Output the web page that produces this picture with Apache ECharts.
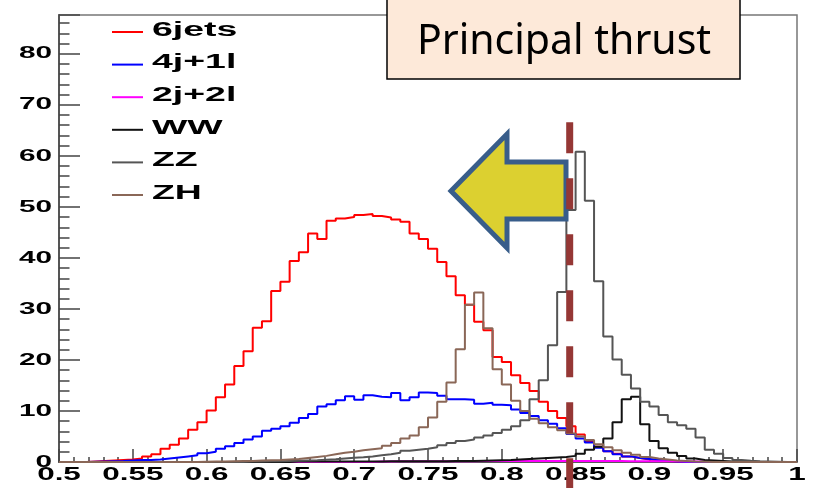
<!DOCTYPE html>
<html>
<head>
<meta charset="utf-8">
<script src="https://cdn.jsdelivr.net/npm/echarts@6/dist/echarts.min.js"></script>
<style>
  html, body { margin: 0; padding: 0; background: #ffffff; }
  #chart { width: 817px; height: 488px; }
</style>
</head>
<body>
<div id="chart"></div>
<script>
// Histogram binning: 80 bins of principal thrust between 0.5 and 1
const binLow = 0.5;
const binHigh = 1.0;
const nBins = 80;

// Bin contents per sample (80 entries each)
const sixJets = [
  0, 0, 0, 0.1, 0.2, 0.3, 0.4, 0.5, 0.7, 1.1,
  1.5, 2.6, 3.4, 4.6, 6.3, 7.8, 10.1, 12.7, 15.2, 18.8,
  21.7, 26.3, 27.6, 33.5, 35.3, 39.4, 41.1, 44.8, 43.7, 47.3,
  47.7, 48.0, 48.4, 48.6, 48.2, 47.9, 47.5, 47.1, 44.8, 43.7,
  41.8, 39.2, 36.4, 32.7, 30.8, 27.5, 25.8, 20.6, 19.6, 17.0,
  15.5, 13.9, 11.8, 10.0, 8.6, 7.0, 5.4, 3.9, 3.0, 2.1,
  1.6, 1.1, 0.8, 0.5, 0.4, 0.2, 0.1, 0, 0, 0,
  0, 0, 0, 0, 0, 0, 0, 0, 0, 0
];
const fourJetsOneLep = [
  0, 0, 0, 0.05, 0.1, 0.15, 0.2, 0.3, 0.4, 0.4,
  0.5, 0.7, 0.9, 1.1, 1.3, 1.7, 2.0, 2.6, 3.1, 3.7,
  4.4, 5.0, 6.1, 6.5, 7.0, 7.7, 8.6, 9.4, 10.9, 11.3,
  12.1, 12.9, 12.2, 13.1, 12.8, 12.7, 13.5, 12.1, 12.7, 13.6,
  13.5, 13.0, 12.3, 12.3, 12.2, 11.4, 11.6, 11.2, 11.1, 10.3,
  9.6, 9.0, 8.2, 7.5, 6.6, 5.5, 4.6, 3.8, 2.8, 2.1,
  1.5, 1.1, 0.8, 0.6, 0.4, 0.2, 0.1, 0, 0, 0,
  0, 0, 0, 0, 0, 0, 0, 0, 0, 0
];
const twoJetsTwoLep = [
  0, 0, 0, 0, 0, 0, 0, 0, 0, 0,
  0, 0, 0, 0, 0, 0, 0, 0, 0, 0,
  0, 0, 0, 0, 0, 0, 0, 0, 0, 0,
  0, 0, 0, 0, 0.1, 0.1, 0.15, 0.15, 0.15, 0.15,
  0.15, 0.15, 0.15, 0.15, 0.15, 0.2, 0.2, 0.2, 0.2, 0.2,
  0.2, 0.2, 0.2, 0.2, 0.2, 0.2, 0.2, 0.2, 0.2, 0.2,
  0.2, 0.15, 0.15, 0.15, 0.15, 0.15, 0.15, 0.1, 0.1, 0.1,
  0.1, 0, 0, 0, 0, 0, 0, 0, 0, 0
];
const wwSample = [
  0, 0, 0, 0, 0, 0, 0, 0, 0, 0,
  0, 0, 0, 0, 0, 0, 0, 0, 0, 0,
  0, 0, 0, 0, 0, 0.1, 0.1, 0.1, 0.1, 0.1,
  0.1, 0.1, 0.1, 0.1, 0.1, 0.15, 0.15, 0.15, 0.15, 0.15,
  0.15, 0.15, 0.2, 0.2, 0.2, 0.25, 0.3, 0.35, 0.4, 0.5,
  0.6, 0.7, 0.8, 0.9, 1.0, 1.2, 1.6, 2.4, 3.0, 4.6,
  7.8, 12.3, 12.8, 7.4, 4.1, 2.7, 1.8, 1.2, 0.7, 0.4,
  0.3, 0.2, 0.1, 0, 0, 0, 0, 0, 0, 0
];
const zzSample = [
  0, 0, 0, 0, 0, 0, 0, 0, 0, 0,
  0, 0, 0, 0, 0, 0, 0, 0, 0, 0,
  0.1, 0.1, 0.15, 0.15, 0.2, 0.25, 0.3, 0.35, 0.45, 0.55,
  0.7, 0.85, 0.95, 1.1, 1.3, 1.5, 1.8, 2.2, 2.4, 2.6,
  2.9, 3.3, 3.7, 4.1, 4.4, 4.8, 5.2, 5.7, 6.3, 7.0,
  8.2, 12.3, 16.0, 22.9, 33.3, 49.4, 60.8, 51.2, 35.4, 24.6,
  20.1, 17.1, 14.4, 11.8, 10.9, 9.2, 7.8, 7.2, 6.5, 4.8,
  2.4, 1.6, 0.8, 0.4, 0.25, 0.15, 0.1, 0.05, 0, 0
];
const zhSample = [
  0, 0, 0, 0, 0, 0, 0, 0, 0, 0,
  0, 0, 0, 0, 0, 0.05, 0.1, 0.1, 0.15, 0.2,
  0.2, 0.3, 0.35, 0.4, 0.5, 0.6, 0.8, 1.0, 1.2, 1.5,
  1.8, 2.0, 2.3, 2.5, 2.7, 3.2, 3.7, 4.6, 5.2, 6.8,
  8.7, 11.8, 15.6, 22.1, 30.8, 33.2, 26.2, 18.2, 15.2, 12.0,
  10.0, 8.5, 7.6, 6.8, 6.2, 5.6, 5.0, 4.3, 3.5, 2.9,
  2.3, 1.8, 1.4, 1.0, 0.7, 0.5, 0.3, 0.2, 0.1, 0.05,
  0, 0, 0, 0, 0, 0, 0, 0, 0, 0
];

const seriesNames = ['6jets', '4j+1l', '2j+2l', 'WW', 'ZZ', 'ZH'];
const seriesValues = [sixJets, fourJetsOneLep, twoJetsTwoLep, wwSample, zzSample, zhSample];
const seriesColors = ['#ff0000', '#0000ff', '#ff00ff', '#111111', '#555555', '#8a6757'];

// Axis tick labels
const xTickLabels = ['0.5', '0.55', '0.6', '0.65', '0.7', '0.75', '0.8', '0.85', '0.9', '0.95', '1'];
const yTickLabels = ['0', '10', '20', '30', '40', '50', '60', '70', '80'];
const yMax = 87.6;

// Cut marker on the thrust axis
const cutValue = 0.846;
const cutTop = 66.6;
const titleText = 'Principal thrust';

// Turn bin contents into step-line points at the bin low edges (+ closing edge)
function toSteps(vals) {
  const w = (binHigh - binLow) / nBins;
  const pts = vals.map((v, i) => [binLow + i * w, v]);
  pts.push([binHigh, vals[vals.length - 1]]);
  return pts;
}

const chart = echarts.init(document.getElementById('chart'), null, { renderer: 'canvas' });

const axisGrey = '#444444';
const option = {
  animation: false,
  backgroundColor: '#ffffff',
  grid: {
    left: 59, right: 20, top: 15, bottom: 26,
    show: true, borderColor: '#777777', borderWidth: 1.5,
    backgroundColor: 'transparent'
  },
  xAxis: {
    type: 'value', min: binLow, max: binHigh, interval: 0.05,
    axisLine: { show: true, onZero: false, lineStyle: { color: axisGrey, width: 1.5 } },
    axisTick: { show: true, inside: true, length: 13, lineStyle: { color: axisGrey, width: 1.5 } },
    minorTick: { show: true, splitNumber: 5, length: 5, lineStyle: { color: axisGrey, width: 1.5 } },
    axisLabel: { show: false },
    splitLine: { show: false }
  },
  yAxis: [
    {
      type: 'value', min: 0, max: yMax, interval: 2, position: 'left',
      axisLine: { show: true, lineStyle: { color: '#555555', width: 2 } },
      axisTick: { show: true, inside: true, length: 10.5, lineStyle: { color: axisGrey, width: 1.5 } },
      axisLabel: { show: false },
      splitLine: { show: false }
    },
    {
      type: 'value', min: 0, max: yMax, interval: 10, position: 'left',
      axisLine: { show: false },
      axisTick: { show: true, inside: true, length: 21, lineStyle: { color: axisGrey, width: 1.5 } },
      axisLabel: { show: false },
      splitLine: { show: false }
    }
  ],
  series: seriesNames.map((name, k) => ({
    name: name,
    type: 'line',
    step: 'end',
    showSymbol: false,
    symbol: 'none',
    xAxisIndex: 0,
    yAxisIndex: 0,
    data: toSteps(seriesValues[k]),
    lineStyle: { color: seriesColors[k], width: 2 },
    itemStyle: { color: seriesColors[k] },
    z: 2 + k * 0.01
  }))
};
chart.setOption(option);

const px = (x, y) => chart.convertToPixel({ seriesIndex: 0 }, [x, y]);
const graphics = [];

// Horizontally stretched bold label, wrapped in a scaled group
function wideText(t, x, y, size, stretch, align) {
  return {
    type: 'group', x: x, y: y, scaleX: stretch, z: 50,
    children: [{
      type: 'text', x: 0, y: 0, z: 50,
      style: {
        text: t, fontFamily: 'Liberation Sans', fontWeight: 'bold', fontSize: size,
        fill: '#000000', align: align, verticalAlign: 'middle'
      }
    }]
  };
}

// Y tick labels
yTickLabels.forEach(t => {
  const p = px(binLow, parseFloat(t));
  graphics.push(wideText(t, 52, p[1], 17, 1.75, 'right'));
});
// X tick labels
xTickLabels.forEach(t => {
  const p = px(parseFloat(t), 0);
  graphics.push(wideText(t, p[0], p[1] + 12.5, 18.5, 1.7, 'center'));
});
// Legend
seriesNames.forEach((name, k) => {
  const yRow = 32 + k * 32.6;
  graphics.push({
    type: 'line', z: 50,
    shape: { x1: 112, y1: yRow, x2: 143, y2: yRow },
    style: { stroke: seriesColors[k], lineWidth: 2 }
  });
  graphics.push(wideText(name, 152, yRow - 1.5, 19.5, 1.92, 'left'));
});
// Arrow pointing to lower thrust
graphics.push({
  type: 'polygon', z: 90,
  shape: { points: [[451, 191], [507, 134], [507, 162], [566, 162], [566, 219], [507, 219], [507, 248]] },
  style: { fill: '#DCD030', stroke: '#385D8A', lineWidth: 5, lineJoin: 'miter' }
});
// Dashed cut line
const cutP = px(cutValue, cutTop);
graphics.push({
  type: 'line', z: 100,
  shape: { x1: cutP[0], y1: cutP[1], x2: cutP[0], y2: 490 },
  style: { stroke: '#953735', lineWidth: 7, lineDash: [31, 25] }
});
// Title box
graphics.push({
  type: 'rect', z: 110,
  shape: { x: 387, y: -1, width: 353, height: 80 },
  style: { fill: '#FDE9D9', stroke: '#000000', lineWidth: 1.5 }
});
graphics.push({
  type: 'text', x: 564, y: 42, z: 111,
  style: {
    text: titleText, fontFamily: 'Noto Sans', fontSize: 41, fontWeight: 'normal',
    fill: '#000000', align: 'center', verticalAlign: 'middle'
  }
});

// Second pass: full option with the overlays, built from scratch
chart.setOption(Object.assign({}, option, { graphic: graphics }), true);
</script>
</body>
</html>
